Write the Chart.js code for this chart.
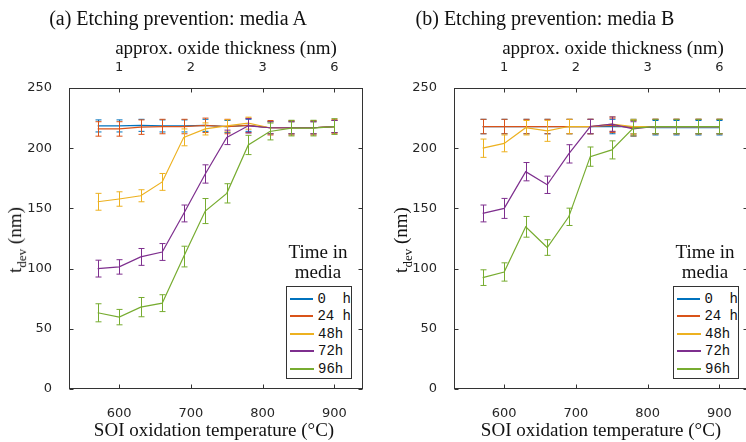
<!DOCTYPE html>
<html>
<head>
<meta charset="utf-8">
<script src="https://cdn.jsdelivr.net/npm/chart.js@4.4.0/dist/chart.umd.min.js"></script>
<style>
  html,body{margin:0;padding:0;background:#fff;overflow:hidden;width:746px;height:442px;}
  .panel{position:absolute;top:0;width:380px;height:442px;}
  .lbl{position:absolute;transform:translate(-50%,-50%);white-space:nowrap;font-family:"Liberation Serif","Times New Roman",serif;color:#111;}
  .ylbl{transform:translate(-50%,-50%) rotate(-90deg);}
  .legend{position:absolute;background:#fff;border:1px solid #333;box-sizing:border-box;padding:3px 0 0 3px;}
  .legend .row{display:flex;align-items:center;height:17.5px;font-family:"Liberation Mono","DejaVu Sans Mono",monospace;font-size:14px;white-space:pre;color:#111;}
  .legend .sw{width:24px;height:0;border-top:2px solid;margin-right:4px;}
</style>
</head>
<body>
<div class="panel" id="pa" style="left:0"><canvas id="chartA"></canvas></div>
<div class="panel" id="pb" style="left:385px"><canvas id="chartB"></canvas></div>

<div class="lbl" style="left:178px;top:18px;font-size:20px">(a) Etching prevention: media A</div>
<div class="lbl" style="left:226px;top:48px;font-size:19px">approx. oxide thickness (nm)</div>
<div class="lbl" style="left:214px;top:430px;font-size:19px">SOI oxidation temperature (°C)</div>
<div class="lbl ylbl" style="left:17px;top:240px;font-size:19px">t<sub style="font-size:13px">dev</sub> (nm)</div>

<div class="lbl" style="left:545px;top:18px;font-size:20px">(b) Etching prevention: media B</div>
<div class="lbl" style="left:613px;top:48px;font-size:19px">approx. oxide thickness (nm)</div>
<div class="lbl" style="left:601px;top:430px;font-size:19px">SOI oxidation temperature (°C)</div>
<div class="lbl ylbl" style="left:403px;top:240px;font-size:19px">t<sub style="font-size:13px">dev</sub> (nm)</div>

<div id="legA"></div>
<div id="legB"></div>

<script>
const temps = [570, 600, 630, 660, 690, 720, 750, 780, 810, 840, 870, 900];
const tempTicks = [600, 700, 800, 900];
const thicknessLabels = ['1', '2', '3', '6'];
const yTicks = [0, 50, 100, 150, 200, 250];
const seriesNames = ['0  h', '24 h', '48h', '72h', '96h'];
const seriesColors = ['#0072BD', '#D95319', '#EDB120', '#7E2F8E', '#77AC30'];

// media A
const a0h  = [218.5, 218.5, 219, 218.5, 218.5, 219, 218, 219, 217, 217, 217, 218];
const a24h = [216, 216, 217.5, 218, 218, 219, 218, 219, 217, 217, 217, 218];
const a48h = [155.5, 157.8, 160.5, 172, 209, 216, 218.6, 220.8, 217, 217, 217, 218];
const a72h = [100, 101.4, 109.7, 113.8, 145.8, 178.6, 209, 218.6, 217, 217, 217, 218];
const a96h = [63.3, 59.7, 68, 71.3, 110, 147.8, 162.5, 202.7, 213.9, 216.7, 216.7, 218];
const a0hErr  = [5, 5, 5, 5, 5, 5, 5, 5, 5, 5, 5, 5];
const a24hErr = [6, 6, 6, 6, 6, 6, 6, 6, 6, 6, 6, 6];
const a48hErr = [7, 6, 5, 7, 7, 5, 5, 5, 5, 5, 5, 5];
const a72hErr = [7, 6, 7, 7, 7, 7.6, 6, 6, 5, 5, 5, 5];
const a96hErr = [7.5, 6.4, 8, 7, 8.6, 10.4, 8, 8, 7, 6.5, 6.5, 6.5];

// media B
const b0h  = [218, 218, 218, 218, 218, 218, 218, 218, 217, 217, 217, 217];
const b24h = [218, 218, 218, 218, 218, 218, 219, 217, 218, 218, 218, 218];
const b48h = [200, 204, 217, 214.4, 218, 218, 220, 218, 218, 218, 218, 218];
const b72h = [145.8, 150, 180.5, 169.6, 195.3, 218, 220, 216, 218, 218, 218, 218];
const b96h = [92.5, 97.2, 134.7, 117.5, 143, 193, 198.6, 216.7, 218, 218, 218, 218];
const b0hErr  = [6, 6, 6, 6, 6, 6, 6, 6, 6, 6, 6, 6];
const b24hErr = [6, 6, 6, 6, 6, 6, 6, 6, 6, 6, 6, 6];
const b48hErr = [7.6, 7, 6, 8.7, 6, 6, 6, 6, 6, 6, 6, 6];
const b72hErr = [7, 8.3, 7.6, 7.2, 7.6, 6, 6, 6, 6, 6, 6, 6];
const b96hErr = [6.5, 7.6, 8.6, 6.5, 7.2, 8, 7.5, 6.5, 6, 6, 6, 6];

const AXIS_COLOR = '#333';
const TICK_FONT = {family: '"DejaVu Sans", sans-serif', size: 13};

// error bars drawn right after each line, from the chart's own scales
const errorBars = {
  id: 'errorBars',
  afterDatasetDraw(chart, args){
    const ds = chart.data.datasets[args.index];
    if(!ds.errors) return;
    const xs = chart.scales.x, ys = chart.scales.y, ctx = chart.ctx;
    ctx.save();
    ctx.strokeStyle = ds.borderColor;
    ctx.lineWidth = 1;
    ds.data.forEach((p, i)=>{
      const px = Math.round(xs.getPixelForValue(p.x)) + 0.5;
      const t = ys.getPixelForValue(p.y + ds.errors[i]);
      const b = ys.getPixelForValue(p.y - ds.errors[i]);
      ctx.beginPath();
      ctx.moveTo(px, t); ctx.lineTo(px, b);
      ctx.moveTo(px - 3, t); ctx.lineTo(px + 3, t);
      ctx.moveTo(px - 3, b); ctx.lineTo(px + 3, b);
      ctx.stroke();
    });
    ctx.restore();
  }
};

// matlab style box with inward ticks
const boxTicks = {
  id: 'boxTicks',
  afterDraw(chart){
    const {ctx, chartArea: a} = chart;
    const xs = chart.scales.x, ys = chart.scales.y;
    ctx.save();
    ctx.strokeStyle = AXIS_COLOR;
    ctx.lineWidth = 1;
    const L = Math.round(a.left) + 0.5, R = Math.round(a.right) - 0.5;
    const T = Math.round(a.top) + 0.5, B = Math.round(a.bottom) - 0.5;
    ctx.strokeRect(L, T, R - L, B - T);
    ctx.beginPath();
    tempTicks.forEach(v=>{
      const px = Math.round(xs.getPixelForValue(v)) + 0.5;
      ctx.moveTo(px, B); ctx.lineTo(px, B - 4);
      ctx.moveTo(px, T); ctx.lineTo(px, T + 4);
    });
    yTicks.forEach(v=>{
      const py = Math.round(ys.getPixelForValue(v)) + 0.5;
      ctx.moveTo(L, py); ctx.lineTo(L + 4, py);
      ctx.moveTo(R, py); ctx.lineTo(R - 4, py);
    });
    ctx.stroke();
    ctx.restore();
  }
};

function makeDatasets(vals, errs){
  return vals.map((v, k)=>({
    label: seriesNames[k],
    data: temps.map((t, i)=>({x: t, y: v[i]})),
    errors: errs[k],
    borderColor: seriesColors[k],
    backgroundColor: seriesColors[k],
    borderWidth: 1.2,
    pointRadius: 0,
    tension: 0,
    order: 5 - k
  }));
}

function makeChart(id, vals, errs){
  const ctx = document.getElementById(id).getContext('2d');
  return new Chart(ctx, {
    type: 'line',
    data: {datasets: makeDatasets(vals, errs)},
    options: {
      responsive: true,
      maintainAspectRatio: false,
      animation: false,
      layout: {padding: {top: 60, left: 0, right: 17, bottom: 23}},
      plugins: {legend: {display: false}, tooltip: {enabled: false}},
      scales: {
        x: {
          type: 'linear', position: 'bottom', min: 530, max: 940,
          afterBuildTicks: s => { s.ticks = tempTicks.map(v=>({value: v})); },
          afterFit: s => { s.height = 30; },
          grid: {display: false}, border: {display: false},
          ticks: {font: TICK_FONT, color: '#262626', padding: 9, maxRotation: 0}
        },
        x2: {
          type: 'linear', position: 'top', min: 530, max: 940,
          afterBuildTicks: s => { s.ticks = tempTicks.map(v=>({value: v})); },
          afterFit: s => { s.height = 28; },
          grid: {display: false}, border: {display: false},
          ticks: {font: TICK_FONT, color: '#262626', padding: 5, maxRotation: 0,
            callback: v => thicknessLabels[tempTicks.indexOf(v)]}
        },
        y: {
          min: 0, max: 250,
          afterBuildTicks: s => { s.ticks = yTicks.map(v=>({value: v})); },
          afterFit: s => { s.width = 69; },
          grid: {display: false}, border: {display: false},
          ticks: {font: TICK_FONT, color: '#262626', padding: 9}
        }
      }
    },
    plugins: [errorBars, boxTicks]
  });
}

function makeLegend(id, left){
  const el = document.getElementById(id);
  let html = `<div class="lbl" style="left:${left + 32}px;top:252px;font-size:19px">Time in</div>`;
  html += `<div class="lbl" style="left:${left + 32}px;top:272px;font-size:19px">media</div>`;
  html += `<div class="legend" style="left:${left}px;top:286px;width:66px;height:93px">`;
  seriesNames.forEach((n, k)=>{
    html += `<div class="row"><span class="sw" style="border-color:${seriesColors[k]}"></span>${n}</div>`;
  });
  html += '</div>';
  el.innerHTML = html;
}

makeChart('chartA', [a0h, a24h, a48h, a72h, a96h], [a0hErr, a24hErr, a48hErr, a72hErr, a96hErr]);
makeChart('chartB', [b0h, b24h, b48h, b72h, b96h], [b0hErr, b24hErr, b48hErr, b72hErr, b96hErr]);
makeLegend('legA', 286);
makeLegend('legB', 673);
</script>
</body>
</html>
